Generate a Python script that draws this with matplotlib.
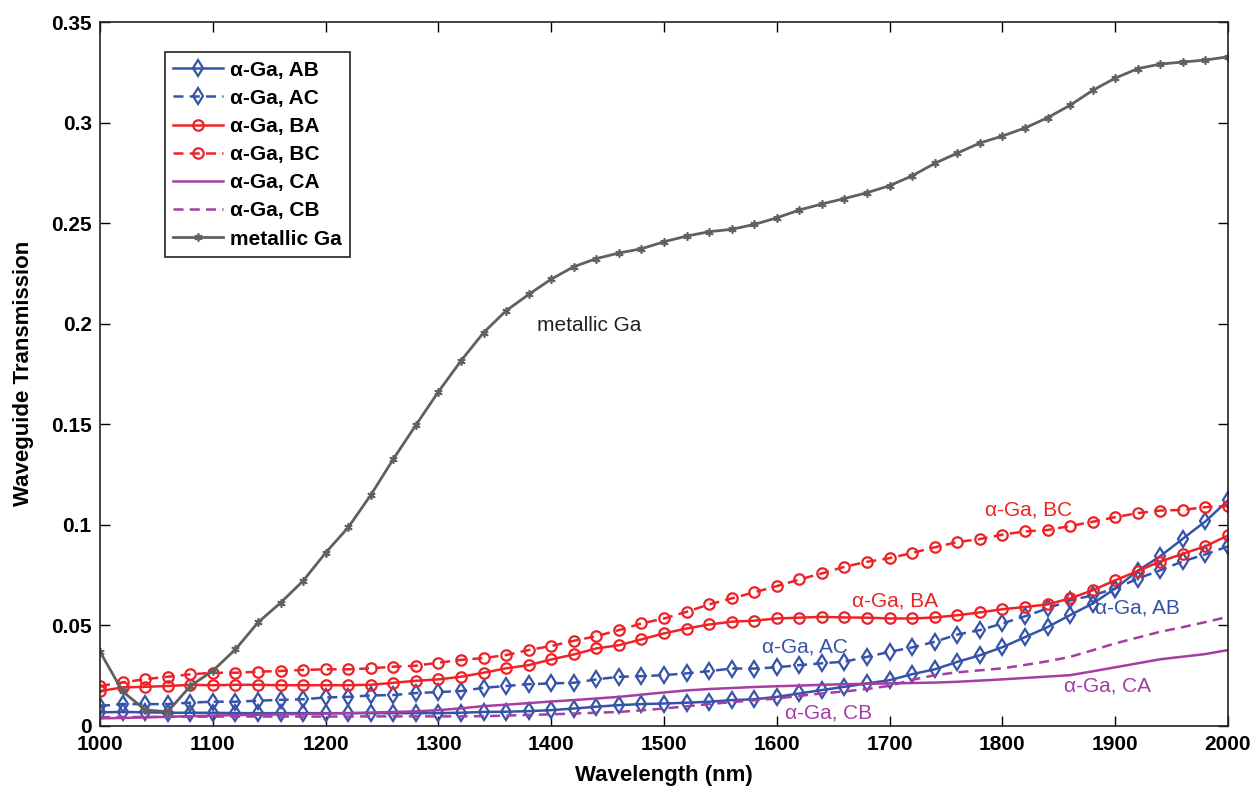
import numpy as np
import matplotlib
matplotlib.use("Agg")
from matplotlib import pyplot as plt
from matplotlib.ticker import FuncFormatter

plt.rcParams['font.family'] = ['Liberation Sans', 'DejaVu Sans']

# wavelength grid (nm), one sample every 20 nm
wavelength = np.arange(1000, 2001, 20)

ab = [0.0066, 0.0068, 0.0066, 0.0064, 0.0064, 0.0064, 0.0062, 0.0062, 0.0062, 0.0062,
      0.0062, 0.0062, 0.0062, 0.0062, 0.0062, 0.0062, 0.0064, 0.0068, 0.0069, 0.0072,
      0.0077, 0.0085, 0.0094, 0.0102, 0.0107, 0.0110, 0.0114, 0.0119, 0.0127, 0.0131,
      0.0143, 0.0160, 0.0177, 0.0193, 0.0210, 0.0226, 0.0256, 0.0280, 0.0317, 0.0350,
      0.0390, 0.0440, 0.0490, 0.0550, 0.0607, 0.0682, 0.0770, 0.0843, 0.0930, 0.1016,
      0.1120]
ac = [0.0098, 0.0107, 0.0107, 0.0107, 0.0114, 0.0119, 0.0119, 0.0124, 0.0128, 0.0131,
      0.0140, 0.0143, 0.0150, 0.0152, 0.0162, 0.0167, 0.0172, 0.0188, 0.0197, 0.0206,
      0.0210, 0.0213, 0.0230, 0.0243, 0.0246, 0.0251, 0.0260, 0.0271, 0.0284, 0.0284,
      0.0290, 0.0301, 0.0310, 0.0318, 0.0342, 0.0367, 0.0389, 0.0417, 0.0453, 0.0475,
      0.0508, 0.0544, 0.0583, 0.0623, 0.0648, 0.0682, 0.0731, 0.0773, 0.0817, 0.0852,
      0.0892]
ba = [0.0172, 0.0190, 0.0193, 0.0197, 0.0203, 0.0201, 0.0203, 0.0203, 0.0201, 0.0201,
      0.0201, 0.0201, 0.0203, 0.0213, 0.0223, 0.0230, 0.0243, 0.0263, 0.0285, 0.0301,
      0.0329, 0.0354, 0.0384, 0.0400, 0.0429, 0.0459, 0.0483, 0.0503, 0.0517, 0.0522,
      0.0533, 0.0537, 0.0541, 0.0538, 0.0537, 0.0533, 0.0533, 0.0538, 0.0549, 0.0563,
      0.0579, 0.0590, 0.0603, 0.0633, 0.0673, 0.0723, 0.0769, 0.0816, 0.0855, 0.0892,
      0.0946]
bc = [0.0197, 0.0215, 0.0231, 0.0243, 0.0255, 0.0263, 0.0263, 0.0268, 0.0272, 0.0277,
      0.0280, 0.0280, 0.0285, 0.0293, 0.0298, 0.0313, 0.0327, 0.0336, 0.0351, 0.0376,
      0.0396, 0.0422, 0.0445, 0.0475, 0.0508, 0.0533, 0.0566, 0.0603, 0.0633, 0.0663,
      0.0694, 0.0727, 0.0757, 0.0790, 0.0815, 0.0833, 0.0859, 0.0887, 0.0913, 0.0928,
      0.0950, 0.0966, 0.0973, 0.0993, 0.1014, 0.1037, 0.1057, 0.1070, 0.1073, 0.1087,
      0.1093]
ca = [0.0036, 0.0038, 0.0041, 0.0044, 0.0047, 0.0050, 0.0052, 0.0054, 0.0056, 0.0058,
      0.0060, 0.0062, 0.0065, 0.0068, 0.0071, 0.0077, 0.0086, 0.0097, 0.0104, 0.0112,
      0.0120, 0.0127, 0.0135, 0.0143, 0.0154, 0.0165, 0.0175, 0.0182, 0.0187, 0.0192,
      0.0196, 0.0199, 0.0203, 0.0206, 0.0208, 0.0210, 0.0212, 0.0214, 0.0218, 0.0224,
      0.0230, 0.0237, 0.0244, 0.0251, 0.0270, 0.0290, 0.0310, 0.0330, 0.0343, 0.0356,
      0.0376]
cb = [0.0042, 0.0043, 0.0043, 0.0044, 0.0044, 0.0045, 0.0045, 0.0045, 0.0045, 0.0045,
      0.0045, 0.0045, 0.0046, 0.0046, 0.0046, 0.0046, 0.0046, 0.0047, 0.0050, 0.0053,
      0.0056, 0.0060, 0.0064, 0.0068, 0.0076, 0.0085, 0.0096, 0.0107, 0.0117, 0.0126,
      0.0135, 0.0148, 0.0160, 0.0170, 0.0182, 0.0198, 0.0228, 0.0251, 0.0265, 0.0275,
      0.0285, 0.0302, 0.0320, 0.0342, 0.0375, 0.0409, 0.0438, 0.0467, 0.0490, 0.0515,
      0.0541]
metallic = [0.0367, 0.0170, 0.0078, 0.0069, 0.0197, 0.0273, 0.0379, 0.0513, 0.0611, 0.0720,
            0.0860, 0.0986, 0.1147, 0.1326, 0.1495, 0.1661, 0.1815, 0.1955, 0.2064, 0.2145,
            0.2221, 0.2283, 0.2323, 0.2351, 0.2372, 0.2407, 0.2435, 0.2457, 0.2469, 0.2493,
            0.2526, 0.2565, 0.2595, 0.2622, 0.2651, 0.2686, 0.2735, 0.2797, 0.2848, 0.2898,
            0.2933, 0.2973, 0.3024, 0.3086, 0.3160, 0.3221, 0.3268, 0.3291, 0.3301, 0.3311,
            0.3327]

blue = '#3553a8'
red = '#ee2227'
purple = '#a43ea3'
grey = '#606060'
dash = (0, (4, 2.5))

fig = plt.figure(figsize=(12.51, 7.87), dpi=100)
ax = fig.add_axes([0.080, 0.078, 0.9016, 0.894])

mk = dict(markerfacecolor='none', markeredgewidth=1.6, lw=1.8)
ax.plot(wavelength, ab, color=blue, marker='d', ms=8, label='α-Ga, AB', **mk)
ax.plot(wavelength, ac, color=blue, marker='d', ms=8, ls=dash, label='α-Ga, AC', **mk)
ax.plot(wavelength, ba, color=red, marker='o', ms=7.5, label='α-Ga, BA', **mk)
ax.plot(wavelength, bc, color=red, marker='o', ms=7.5, ls=dash, label='α-Ga, BC', **mk)
ax.plot(wavelength, ca, color=purple, lw=1.8, label='α-Ga, CA')
ax.plot(wavelength, cb, color=purple, lw=1.8, ls=dash, label='α-Ga, CB')
ax.plot(wavelength, metallic, color=grey, lw=2, marker=(6, 2, 0), ms=6,
        markeredgewidth=1.2, label='metallic Ga')

ax.set_xlim(1000, 2000)
ax.set_ylim(0, 0.35)
ax.set_xticks(np.arange(1000, 2001, 100))
ax.set_yticks(np.arange(0, 0.351, 0.05))
ax.yaxis.set_major_formatter(FuncFormatter(lambda v, p: '%g' % round(v, 2)))
ax.tick_params(direction='in', top=True, right=True, length=7, width=1,
               labelsize=15, pad=6)
ax.tick_params(axis='x', pad=7)
for lab in ax.get_xticklabels() + ax.get_yticklabels():
    lab.set_fontweight('bold')
for s in ax.spines.values():
    s.set_linewidth(1.2)
    s.set_color('#222222')

ax.set_xlabel('Wavelength (nm)', fontsize=16, fontweight='bold', labelpad=8)
ax.set_ylabel('Waveguide Transmission', fontsize=16, fontweight='bold', labelpad=12)

leg = ax.legend(loc='upper left', bbox_to_anchor=(0.0576, 0.957), borderaxespad=0,
                fancybox=False, framealpha=1, edgecolor='#222222',
                prop={'weight': 'bold', 'size': 15}, handlelength=2.4,
                handletextpad=0.3, labelspacing=0.44, borderpad=0.4)
leg.get_frame().set_linewidth(1.2)

fs = 15
ax.text(1387, 0.199, 'metallic Ga', color='#222222', fontsize=fs, va='center')
ax.text(1785, 0.1072, 'α-Ga, BC', color=red, fontsize=fs, va='center')
ax.text(1667, 0.062, 'α-Ga, BA', color=red, fontsize=fs, va='center')
ax.text(1587, 0.039, 'α-Ga, AC', color=blue, fontsize=fs, va='center')
ax.text(1882, 0.0585, 'α-Ga, AB', color=blue, fontsize=fs, va='center')
ax.text(1855, 0.0197, 'α-Ga, CA', color=purple, fontsize=fs, va='center')
ax.text(1607, 0.0062, 'α-Ga, CB', color=purple, fontsize=fs, va='center')

fig.savefig('out.png', dpi=100)
